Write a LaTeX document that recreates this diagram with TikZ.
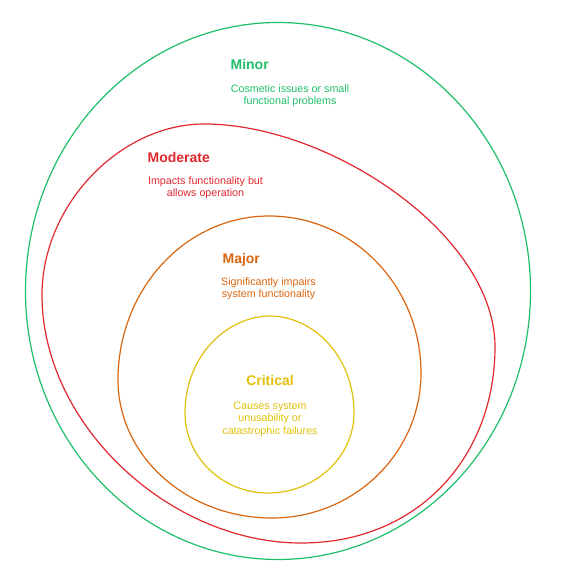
\documentclass[tikz,border=0pt]{standalone}
\usepackage{fontspec}
\setmainfont{Liberation Sans}
\usepackage{xcolor}
\usepackage{tikz}
\definecolor{sevgreen}{RGB}{31,190,106}
\definecolor{sevred}{RGB}{224,40,46}
\definecolor{sevorange}{RGB}{217,101,15}
\definecolor{sevyellow}{RGB}{224,192,10}

\begin{document}
\begin{tikzpicture}[x=1pt, y=-1pt, line width=1.2pt,
    title/.style={font=\fontsize{14}{16}\selectfont\bfseries, inner sep=0pt},
    desc/.style={font=\fontsize{10.7}{12.6}\selectfont, align=center, inner sep=0pt, anchor=north}]
    \useasboundingbox (0,0) rectangle (560,583);

    % Regions, outermost first
    \draw[sevgreen] (278,291) ellipse [x radius=252.5, y radius=268.5];
    \draw[sevred] (204,124) .. controls (330,124) and (495,235) .. (495,347)
        .. controls (495,455) and (420,543) .. (301,543)
        .. controls (170,543) and (42,425) .. (42,295)
        .. controls (42,205) and (120,124) .. (204,124) -- cycle;
    \draw[sevorange] (269,216) .. controls (353,216) and (421,286) .. (421,373)
        .. controls (421,453) and (354,518) .. (272,518)
        .. controls (187,518) and (118,456) .. (118,380)
        .. controls (118,289) and (186,216) .. (269,216) -- cycle;
    \draw[sevyellow] (270,316) .. controls (312,316) and (354,355) .. (354,413)
        .. controls (354,457) and (315,493) .. (268,493)
        .. controls (222,493) and (185,457) .. (185,413)
        .. controls (185,355) and (228,316) .. (270,316) -- cycle;

    % Labels
    \node[title, anchor=base west, text=sevgreen] (minor) at (230,70) {Minor};
    \node[desc, text=sevgreen] (minordesc) at (290,84) {Cosmetic issues or small\\functional problems};

    \node[title, anchor=base west, text=sevred] (moderate) at (147,162) {Moderate};
    \node[desc, text=sevred] (moderatedesc) at (205.5,176) {Impacts functionality but\\allows operation};

    \node[title, anchor=base west, text=sevorange] (major) at (222,263) {Major};
    \node[desc, text=sevorange] (majordesc) at (268.5,277) {Significantly impairs\\system functionality};

    \node[title, anchor=base, text=sevyellow] (critical) at (270,385) {Critical};
    \node[desc, text=sevyellow] (criticaldesc) at (270,401) {Causes system\\unusability or\\catastrophic failures};
\end{tikzpicture}
\end{document}
